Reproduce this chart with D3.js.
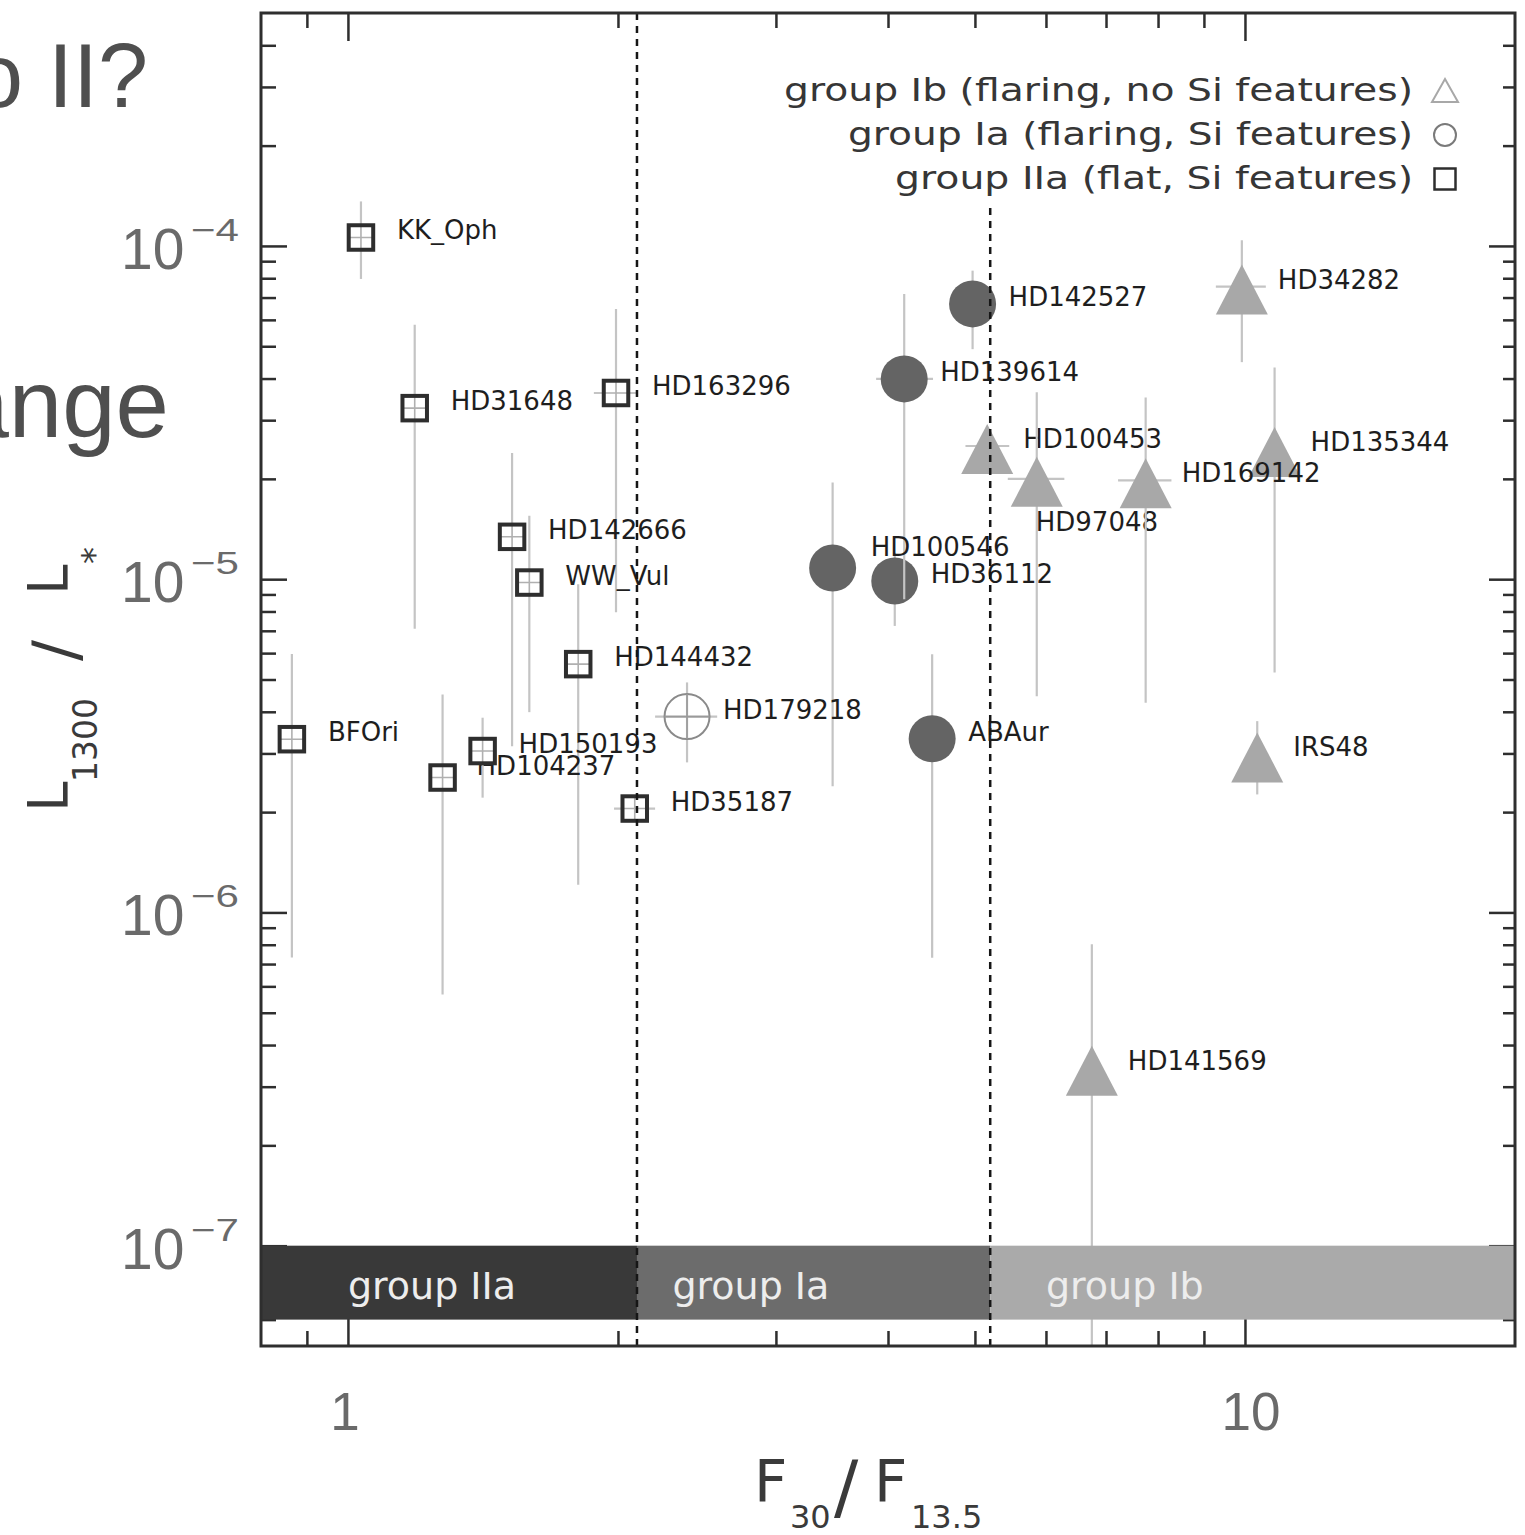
<!DOCTYPE html>
<html>
<head>
<meta charset="utf-8">
<script src="https://cdn.jsdelivr.net/npm/d3@7"></script>
<style>
  html, body { margin: 0; background: #fff; }
  svg { display: block; }
</style>
</head>
<body>
<svg id="chart" width="1525" height="1535"></svg>
<script>
// ---------------- data ----------------
const stars = [
  "KK_Oph", "HD31648", "HD163296", "HD142666", "WW_Vul", "HD144432", "BFOri", "HD104237", "HD150193", "HD35187",
  "HD142527", "HD36112", "HD139614", "HD100546", "ABAur", "HD179218",
  "HD34282", "HD100453", "HD97048", "HD135344", "HD169142", "IRS48", "HD141569"
];
const group = [
  "IIa", "IIa", "IIa", "IIa", "IIa", "IIa", "IIa", "IIa", "IIa", "IIa",
  "Ia", "Ia", "Ia", "Ia", "Ia", "Ia",
  "Ib", "Ib", "Ib", "Ib", "Ib", "Ib", "Ib"
];
// F30/F13.5 colour and its range (null = no horizontal bar)
const f30   = [1.034, 1.187, 1.99, 1.524, 1.593, 1.806, 0.866, 1.275, 1.413, 2.088,
               4.97, 4.07, 4.17, 3.47, 4.48, 2.388,
               9.92, 5.16, 5.86, 10.79, 7.75, 10.32, 6.75];
const f30Lo = [null, null, 1.88, null, null, null, null, null, null, 1.98,
               null, null, 3.88, null, null, 2.20,
               9.28, 4.88, 5.44, null, 7.22, null, null];
const f30Hi = [null, null, 2.10, null, null, null, null, null, null, 2.20,
               null, null, 4.49, null, null, 2.58,
               10.55, 5.46, 6.29, null, 8.28, null, null];
// L1300 / L* and its range
const lum   = [1.06e-4, 3.26e-5, 3.62e-5, 1.34e-5, 9.77e-6, 5.56e-6, 3.31e-6, 2.54e-6, 3.05e-6, 2.05e-6,
               6.7e-5, 9.88e-6, 3.99e-5, 1.08e-5, 3.32e-6, 3.87e-6,
               7.55e-5, 2.51e-5, 2.0e-5, 2.46e-5, 1.98e-5, 2.98e-6, 3.42e-7];
const lumLo = [7.96e-5, 7.1e-6, 7.96e-6, 3.15e-6, 3.99e-6, 1.21e-6, 7.33e-7, 5.67e-7, 2.21e-6, 1.95e-6,
               4.9e-5, 7.24e-6, 8.71e-6, 2.39e-6, 7.31e-7, 2.82e-6,
               4.48e-5, 2.3e-5, 4.45e-6, 5.25e-6, 4.26e-6, 2.26e-6, 3.0e-8];
const lumHi = [1.36e-4, 5.8e-5, 6.47e-5, 2.39e-5, 1.55e-5, 9.66e-6, 5.96e-6, 4.51e-6, 3.84e-6, 2.15e-6,
               8.43e-5, 1.2e-5, 7.18e-5, 1.95e-5, 5.95e-6, 4.9e-6,
               1.04e-4, 2.75e-5, 3.64e-5, 4.32e-5, 3.51e-5, 3.75e-6, 8.02e-7];
const hollow = ["HD179218"];

// classification strips along the bottom
const bandNames   = ["group IIa", "group Ia", "group Ib"];
const bandFrom    = [0.8, 2.1, 5.2];
const bandTo      = [2.1, 5.2, 20];
const bandLabelAt = [1.0, 2.3, 6.0];
const bandLum     = [6e-8, 1e-7];

// dotted group boundaries
const dividerAt  = [2.1, 5.2];
const dividerTop = [5e-4, 1.3e-4];

// legend
const legendText  = ["group Ib (flaring, no Si features)", "group Ia (flaring, Si features)", "group IIa (flat, Si features)"];
const legendShape = ["triangle", "circle", "square"];

// axis ticks
const xMajor = [1, 10];
const xTicks = [0.9, 1, 2, 3, 4, 5, 6, 7, 8, 9, 10];
const yMajor = [1e-7, 1e-6, 1e-5, 1e-4];
const yTicks = [];
for (let e = -8; e <= -4; e++) for (let m = 1; m <= 9; m++) {
  const v = m * Math.pow(10, e);
  if (v > 5.01e-8 && v < 4.99e-4) yTicks.push(v);
}

// ---------------- layout ----------------
const L = 261, R = 1515, T = 13, B = 1346;
const x = d3.scaleLog().domain([0.8, 20]).range([L, R]);
const y = d3.scaleLog().domain([5e-8, 5e-4]).range([B, T]);

const labelShift = { HD97048: [-1, 52], HD100546: [38, -12.5], HD104237: [34, -3] };
const defaultShift = [36, 2];

const svg = d3.select("#chart");
const ink = "#2e2e2e";
const barColor = "#c4c4c4";
const groupFill = { IIa: "#ffffff", Ia: "#646464", Ib: "#a8a8a8" };

// slide heading fragments at the left edge
svg.append("text").attr("x", 148).attr("y", 107).attr("text-anchor", "end")
  .style("font-family", "Liberation Sans, Arial, sans-serif").style("font-size", "90px")
  .attr("fill", "#4f4f4f").text("o II?");
svg.append("text").attr("x", 169).attr("y", 437).attr("text-anchor", "end")
  .style("font-family", "Liberation Sans, Arial, sans-serif").style("font-size", "96px")
  .attr("fill", "#4f4f4f").text("ange");

svg.append("defs").append("clipPath").attr("id", "plotClip")
  .append("rect").attr("x", L).attr("y", T).attr("width", R - L).attr("height", B - T);

// ---------------- ticks ----------------
const isMajorY = d => Math.abs(Math.log10(d) - Math.round(Math.log10(d))) < 1e-6;
const isMajorX = d => xMajor.some(m => Math.abs(m - d) < 1e-9);

function drawAxis(axis, transform, attr, sign, isMajor, majLen, minLen) {
  const g = svg.append("g").attr("transform", transform).call(axis);
  g.select(".domain").remove();
  g.selectAll(".tick text").remove();
  g.selectAll(".tick line")
    .attr(attr, d => sign * (isMajor(d) ? majLen : minLen))
    .attr("stroke", ink).attr("stroke-width", 2.5);
}
drawAxis(d3.axisTop(x).tickValues(xTicks).tickFormat(""), `translate(0,${T})`, "y2", 1, isMajorX, 28, 15);
drawAxis(d3.axisBottom(x).tickValues(xTicks).tickFormat(""), `translate(0,${B})`, "y2", -1, isMajorX, 28, 15);
drawAxis(d3.axisLeft(y).tickValues(yTicks).tickFormat(""), `translate(${L},0)`, "x2", 1, isMajorY, 26, 15);
drawAxis(d3.axisRight(y).tickValues(yTicks).tickFormat(""), `translate(${R},0)`, "x2", -1, isMajorY, 26, 12);

// ---------------- stars ----------------
const plot = svg.append("g");
stars.forEach((name, i) => {
  const cx = x(f30[i]), cy = y(lum[i]);
  const bars = plot.append("g").attr("clip-path", "url(#plotClip)")
    .attr("stroke", barColor).attr("stroke-width", 2.2);
  bars.append("line").attr("x1", cx).attr("x2", cx).attr("y1", y(lumLo[i])).attr("y2", y(lumHi[i]));
  if (f30Lo[i] != null) {
    bars.append("line").attr("x1", x(f30Lo[i])).attr("x2", x(f30Hi[i])).attr("y1", cy).attr("y2", cy);
  }
  const g = group[i];
  if (g === "IIa") {
    const s = 24.5;
    plot.append("rect").attr("x", cx - s / 2).attr("y", cy - s / 2).attr("width", s).attr("height", s)
      .attr("fill", "#fff");
    plot.append("path").attr("d", `M${cx - s / 2},${cy}H${cx + s / 2}M${cx},${cy - s / 2}V${cy + s / 2}`)
      .attr("stroke", "#b0b0b0").attr("stroke-width", 1.6);
    plot.append("rect").attr("x", cx - s / 2).attr("y", cy - s / 2).attr("width", s).attr("height", s)
      .attr("fill", "none").attr("stroke", ink).attr("stroke-width", 4);
  } else if (g === "Ia") {
    if (hollow.includes(name)) {
      plot.append("circle").attr("cx", cx).attr("cy", cy).attr("r", 22.5)
        .attr("fill", "none").attr("stroke", "#8a8a8a").attr("stroke-width", 2);
      plot.append("path").attr("d", `M${cx - 22.5},${cy}H${cx + 22.5}M${cx},${cy - 22.5}V${cy + 22.5}`)
        .attr("stroke", "#9a9a9a").attr("stroke-width", 1.6);
    } else {
      plot.append("circle").attr("cx", cx).attr("cy", cy).attr("r", 23.5).attr("fill", groupFill.Ia);
    }
  } else {
    plot.append("path")
      .attr("d", `M${cx},${cy - 22}L${cx + 26},${cy + 28}L${cx - 26},${cy + 28}Z`)
      .attr("fill", groupFill.Ib);
  }
  const sh = labelShift[name] || defaultShift;
  plot.append("text").attr("x", cx + sh[0]).attr("y", cy + sh[1])
    .style("font-family", "DejaVu Sans, sans-serif").style("font-size", "26px")
    .attr("fill", "#1e1e1e").text(name);
});

// ---------------- group strips ----------------
const bandColor = ["#393939", "#6c6c6c", "#aaaaaa"];
bandNames.forEach((nm, i) => {
  svg.append("rect").attr("x", x(bandFrom[i])).attr("width", x(bandTo[i]) - x(bandFrom[i]))
    .attr("y", y(bandLum[1])).attr("height", y(bandLum[0]) - y(bandLum[1]))
    .attr("fill", bandColor[i]);
  svg.append("text").attr("x", x(bandLabelAt[i])).attr("y", y(bandLum[1]) + 53)
    .style("font-family", "DejaVu Sans, sans-serif").style("font-size", "38px")
    .attr("fill", "#ededed").text(nm);
});

// ---------------- dotted boundaries ----------------
dividerAt.forEach((v, i) => {
  svg.append("line").attr("x1", x(v)).attr("x2", x(v)).attr("y1", y(dividerTop[i])).attr("y2", B)
    .attr("stroke", "#161616").attr("stroke-width", 2.5).attr("stroke-dasharray", "7,6");
});

// ---------------- frame ----------------
svg.append("rect").attr("x", L).attr("y", T).attr("width", R - L).attr("height", B - T)
  .attr("fill", "none").attr("stroke", ink).attr("stroke-width", 3);

// ---------------- legend ----------------
const legendWidth = [629, 565, 518];
legendText.forEach((t, i) => {
  const by = 101 + i * 44;
  svg.append("text").attr("x", 1413).attr("y", by).attr("text-anchor", "end")
    .attr("textLength", legendWidth[i]).attr("lengthAdjust", "spacingAndGlyphs")
    .style("font-family", "DejaVu Sans, sans-serif").style("font-size", "32px")
    .attr("fill", "#363636").text(t);
  const sx = 1445, sy = by - 10;
  if (legendShape[i] === "triangle") {
    svg.append("path").attr("d", `M${sx},${sy - 12}L${sx + 13},${sy + 11}L${sx - 13},${sy + 11}Z`)
      .attr("fill", "none").attr("stroke", "#a8a8a8").attr("stroke-width", 2);
  } else if (legendShape[i] === "circle") {
    svg.append("circle").attr("cx", sx).attr("cy", sy).attr("r", 11)
      .attr("fill", "none").attr("stroke", "#7a7a7a").attr("stroke-width", 2);
  } else {
    svg.append("rect").attr("x", sx - 10.5).attr("y", sy - 10.5).attr("width", 21).attr("height", 21)
      .attr("fill", "none").attr("stroke", ink).attr("stroke-width", 2.5);
  }
});

// ---------------- tick labels ----------------
const labelGrey = "#6a6a6a";
yMajor.forEach(v => {
  const ty = y(v);
  const e = Math.round(Math.log10(v));
  svg.append("text").attr("x", 121).attr("y", ty + 23)
    .style("font-family", "Liberation Sans, Arial, sans-serif").style("font-size", "57px")
    .attr("fill", labelGrey).text("10");
  // exponent with a long minus sign
  svg.append("text").attr("x", 191).attr("y", ty - 5)
    .attr("textLength", 48).attr("lengthAdjust", "spacingAndGlyphs")
    .style("font-family", "Liberation Sans, Arial, sans-serif").style("font-size", "32px")
    .attr("fill", labelGrey).text("\u2212" + String(-e));
});
xMajor.forEach((v, i) => {
  svg.append("text").attr("x", x(v) + (i === 0 ? -3 : 6)).attr("y", 1430).attr("text-anchor", "middle")
    .style("font-family", "Liberation Sans, Arial, sans-serif").style("font-size", "53px")
    .attr("fill", labelGrey).text(d3.format("d")(v));
});

// ---------------- axis titles ----------------
const titleInk = "#3a3a3a";
const tf = "DejaVu Sans, sans-serif";
function piece(parent, px, py, size, txt) {
  parent.append("text").attr("x", px).attr("y", py)
    .style("font-family", tf).style("font-size", size + "px").attr("fill", titleInk).text(txt);
}
// F30 / F13.5
piece(svg, 754, 1502, 58, "F");
piece(svg, 790, 1528, 32, "30");
piece(svg, 834, 1511, 72, "/");
piece(svg, 874, 1502, 58, "F");
piece(svg, 911, 1528, 32, "13.5");
// L1300 / L*
const yt = svg.append("g").attr("transform", "translate(67,807) rotate(-90)");
piece(yt, -5, 0, 55, "L");
piece(yt, 25, 30, 33, "1300");
piece(yt, 146, 10, 62, "/");
piece(yt, 212, 0, 55, "L");
piece(yt, 243, 39, 34, "*");
</script>
</body>
</html>
